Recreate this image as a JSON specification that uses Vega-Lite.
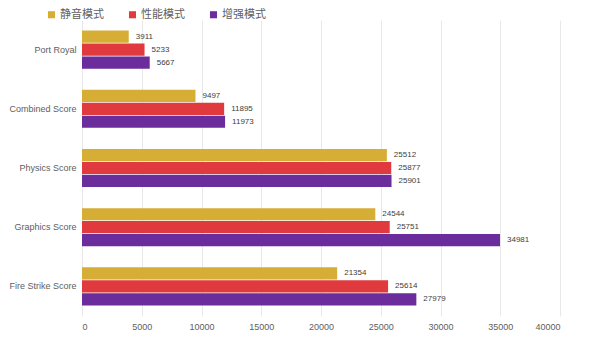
{
  "$schema": "https://vega.github.io/schema/vega-lite/v6.json",
  "width": 478,
  "height": 296,
  "autosize": {"type": "none"},
  "padding": {"left": 82, "top": 20, "right": 40, "bottom": 44},
  "background": "white",
  "config": {
    "view": {"stroke": null},
    "font": "Noto Sans CJK SC"
  },
  "data": {
    "values": [
      {"test": "Port Royal", "mode": "静音模式", "score": 3911},
      {"test": "Port Royal", "mode": "性能模式", "score": 5233},
      {"test": "Port Royal", "mode": "增强模式", "score": 5667},
      {"test": "Combined Score", "mode": "静音模式", "score": 9497},
      {"test": "Combined Score", "mode": "性能模式", "score": 11895},
      {"test": "Combined Score", "mode": "增强模式", "score": 11973},
      {"test": "Physics Score", "mode": "静音模式", "score": 25512},
      {"test": "Physics Score", "mode": "性能模式", "score": 25877},
      {"test": "Physics Score", "mode": "增强模式", "score": 25901},
      {"test": "Graphics Score", "mode": "静音模式", "score": 24544},
      {"test": "Graphics Score", "mode": "性能模式", "score": 25751},
      {"test": "Graphics Score", "mode": "增强模式", "score": 34981},
      {"test": "Fire Strike Score", "mode": "静音模式", "score": 21354},
      {"test": "Fire Strike Score", "mode": "性能模式", "score": 25614},
      {"test": "Fire Strike Score", "mode": "增强模式", "score": 27979}
    ]
  },
  "encoding": {
    "y": {
      "field": "test",
      "type": "nominal",
      "sort": ["Port Royal", "Combined Score", "Physics Score", "Graphics Score", "Fire Strike Score"],
      "scale": {"paddingInner": 0.356, "paddingOuter": 0.178},
      "axis": {
        "title": null,
        "domain": false,
        "ticks": false,
        "labelFont": "Liberation Sans",
        "labelFontSize": 9,
        "labelColor": "#606060",
        "labelPadding": 6
      }
    },
    "yOffset": {
      "field": "mode",
      "type": "nominal",
      "sort": ["静音模式", "性能模式", "增强模式"],
      "scale": {"paddingInner": 0.06}
    },
    "x": {
      "field": "score",
      "type": "quantitative",
      "scale": {"domain": [0, 40000]},
      "axis": {
        "title": null,
        "values": [0, 5000, 10000, 15000, 20000, 25000, 30000, 35000, 40000],
        "format": "d",
        "domain": false,
        "ticks": false,
        "grid": true,
        "gridColor": "#e8e8e8",
        "labelFont": "Liberation Sans",
        "labelFontSize": 9,
        "labelColor": "#606060",
        "labelPadding": 6
      }
    }
  },
  "layer": [
    {
      "mark": {"type": "bar"},
      "encoding": {
        "color": {
          "field": "mode",
          "type": "nominal",
          "sort": ["静音模式", "性能模式", "增强模式"],
          "scale": {"domain": ["静音模式", "性能模式", "增强模式"], "range": ["#d6ad35", "#e03a3e", "#6b2c9c"]},
          "legend": {
            "title": null,
            "orient": "none",
            "direction": "horizontal",
            "legendX": -36,
            "legendY": -11,
            "symbolType": "square",
            "symbolSize": 50,
            "symbolStrokeWidth": 0,
            "labelFontSize": 11,
            "labelColor": "#606060",
            "labelOffset": 3,
            "columnPadding": 23
          }
        }
      }
    },
    {
      "mark": {"type": "text", "align": "left", "baseline": "middle", "dx": 7, "fontSize": 8, "font": "Liberation Sans", "color": "#404040"},
      "encoding": {
        "text": {"field": "score", "type": "quantitative", "format": "d"}
      }
    }
  ]
}
